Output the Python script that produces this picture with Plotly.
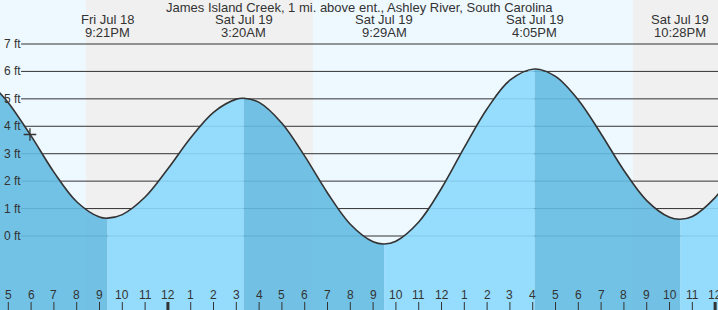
import plotly.graph_objects as go

# ---------------- data ----------------
title_text = "James Island Creek, 1 mi. above ent., Ashley River, South Carolina"

# hours since Fri Jul 18 00:00, tide height in ft
curve_t = [16.5, 17, 18, 19, 20, 21, 21.35, 22, 23, 24, 25, 26, 27, 27.333,
           28, 29, 30, 31, 32, 33, 33.483, 34, 35, 36, 37, 38, 39, 40.083,
           41, 42, 43, 44, 45, 46, 46.467, 47, 48, 48.5]
curve_ft = [5.33, 4.86, 3.65, 2.33, 1.25, 0.69, 0.65, 0.78, 1.42, 2.45, 3.58, 4.51, 4.99, 5.02,
            4.87, 4.11, 2.91, 1.57, 0.43, -0.21, -0.29, -0.19, 0.51, 1.74, 3.23, 4.64, 5.68, 6.09,
            5.82, 4.96, 3.72, 2.39, 1.29, 0.68, 0.61, 0.71, 1.40, 1.94]

# high / low tide events
tide_t = [21.35, 27.333, 33.483, 40.083, 46.467]
tide_day = ["Fri Jul 18", "Sat Jul 19", "Sat Jul 19", "Sat Jul 19", "Sat Jul 19"]
tide_clock = ["9:21PM", "3:20AM", "9:29AM", "4:05PM", "10:28PM"]

# night periods (sunset -> sunrise)
night_start = [20.41, 44.40]
night_end = [30.36, 48.5]

# current time marker
now_t = [17.95]
now_ft = [3.70]

# axis ticks
hour_ticks = list(range(17, 49))
hour_labels = [str((h - 1) % 12 + 1) for h in hour_ticks]
ft_levels = [0, 1, 2, 3, 4, 5, 6, 7]
ft_labels = [f"{v} ft" for v in ft_levels]

# ---------------- styling ----------------
X_RANGE = [16.636, 48.126]
Y_RANGE = [-2.698, 8.604]
DAY_BG = "#eef8ff"
NIGHT_BG = "#f0f0f0"
WATER_RISE = "rgba(139,216,253,0.9)"
WATER_FALL = "rgba(100,187,226,0.9)"
INK = "#333333"
FONT = "Liberation Sans, Arial, sans-serif"
BASE = -3.5

fig = go.Figure()

# grid lines (drawn under the water)
for v in ft_levels:
    fig.add_trace(go.Scatter(x=[17.56, 48.5], y=[v, v], mode="lines",
                             line=dict(color=INK, width=1), hoverinfo="skip", showlegend=False))

# water fill, split at each high / low
cut_idx = [0] + [curve_t.index(t) for t in tide_t] + [len(curve_t) - 1]
for a, b in zip(cut_idx[:-1], cut_idx[1:]):
    xs = curve_t[a:b + 1]
    ys = curve_ft[a:b + 1]
    color = WATER_FALL if ys[-1] < ys[0] else WATER_RISE
    fig.add_trace(go.Scatter(x=[xs[0], xs[-1]], y=[BASE, BASE], mode="lines",
                             line=dict(width=0), hoverinfo="skip", showlegend=False))
    fig.add_trace(go.Scatter(x=xs, y=ys, mode="lines", fill="tonexty", fillcolor=color,
                             line=dict(width=0, shape="spline"), hoverinfo="skip", showlegend=False))

# tide curve
fig.add_trace(go.Scatter(x=curve_t, y=curve_ft, mode="lines",
                         line=dict(color=INK, width=1.6, shape="spline"),
                         hoverinfo="skip", showlegend=False))

# current time marker
fig.add_trace(go.Scatter(x=now_t, y=now_ft, mode="markers",
                         marker=dict(symbol="cross-thin", size=9, line=dict(color=INK, width=1.3)),
                         hoverinfo="skip", showlegend=False))

shapes = []
for s, e in zip(night_start, night_end):
    shapes.append(dict(type="rect", xref="x", yref="paper", x0=s, x1=e, y0=0, y1=1,
                       fillcolor=NIGHT_BG, line=dict(width=0), layer="below"))
for h in hour_ticks:
    midnight = (h % 24 == 0)
    shapes.append(dict(type="line", xref="x", yref="paper", x0=h, x1=h, y0=0, y1=8 / 310,
                       line=dict(color=INK, width=3 if midnight else 1)))

annotations = [dict(text=title_text, xref="paper", yref="paper", x=0.5, y=1 - 7.5 / 310,
                    xanchor="center", yanchor="middle", showarrow=False,
                    font=dict(family=FONT, size=13, color=INK))]
for t, d, c in zip(tide_t, tide_day, tide_clock):
    annotations.append(dict(text=d, xref="x", yref="paper", x=t, y=1 - 20 / 310,
                            xanchor="center", yanchor="middle", showarrow=False,
                            font=dict(family=FONT, size=13, color=INK)))
    annotations.append(dict(text=c, xref="x", yref="paper", x=t, y=1 - 32 / 310,
                            xanchor="center", yanchor="middle", showarrow=False,
                            font=dict(family=FONT, size=13, color=INK)))
for h, lab in zip(hour_ticks, hour_labels):
    annotations.append(dict(text=lab, xref="x", yref="paper", x=h, y=15 / 310,
                            xanchor="center", yanchor="middle", showarrow=False,
                            font=dict(family=FONT, size=12, color=INK)))
for v, lab in zip(ft_levels, ft_labels):
    annotations.append(dict(text=lab, xref="paper", yref="y", x=2 / 718, y=v,
                            xanchor="left", yanchor="middle", showarrow=False,
                            font=dict(family=FONT, size=12, color=INK)))

fig.update_layout(
    width=718, height=310, autosize=False,
    margin=dict(l=0, r=0, t=0, b=0, pad=0),
    paper_bgcolor=DAY_BG, plot_bgcolor=DAY_BG,
    xaxis=dict(range=X_RANGE, visible=False, fixedrange=True),
    yaxis=dict(range=Y_RANGE, visible=False, fixedrange=True),
    shapes=shapes, annotations=annotations, showlegend=False,
)

fig.write_html("out.html", config={"displayModeBar": False})
